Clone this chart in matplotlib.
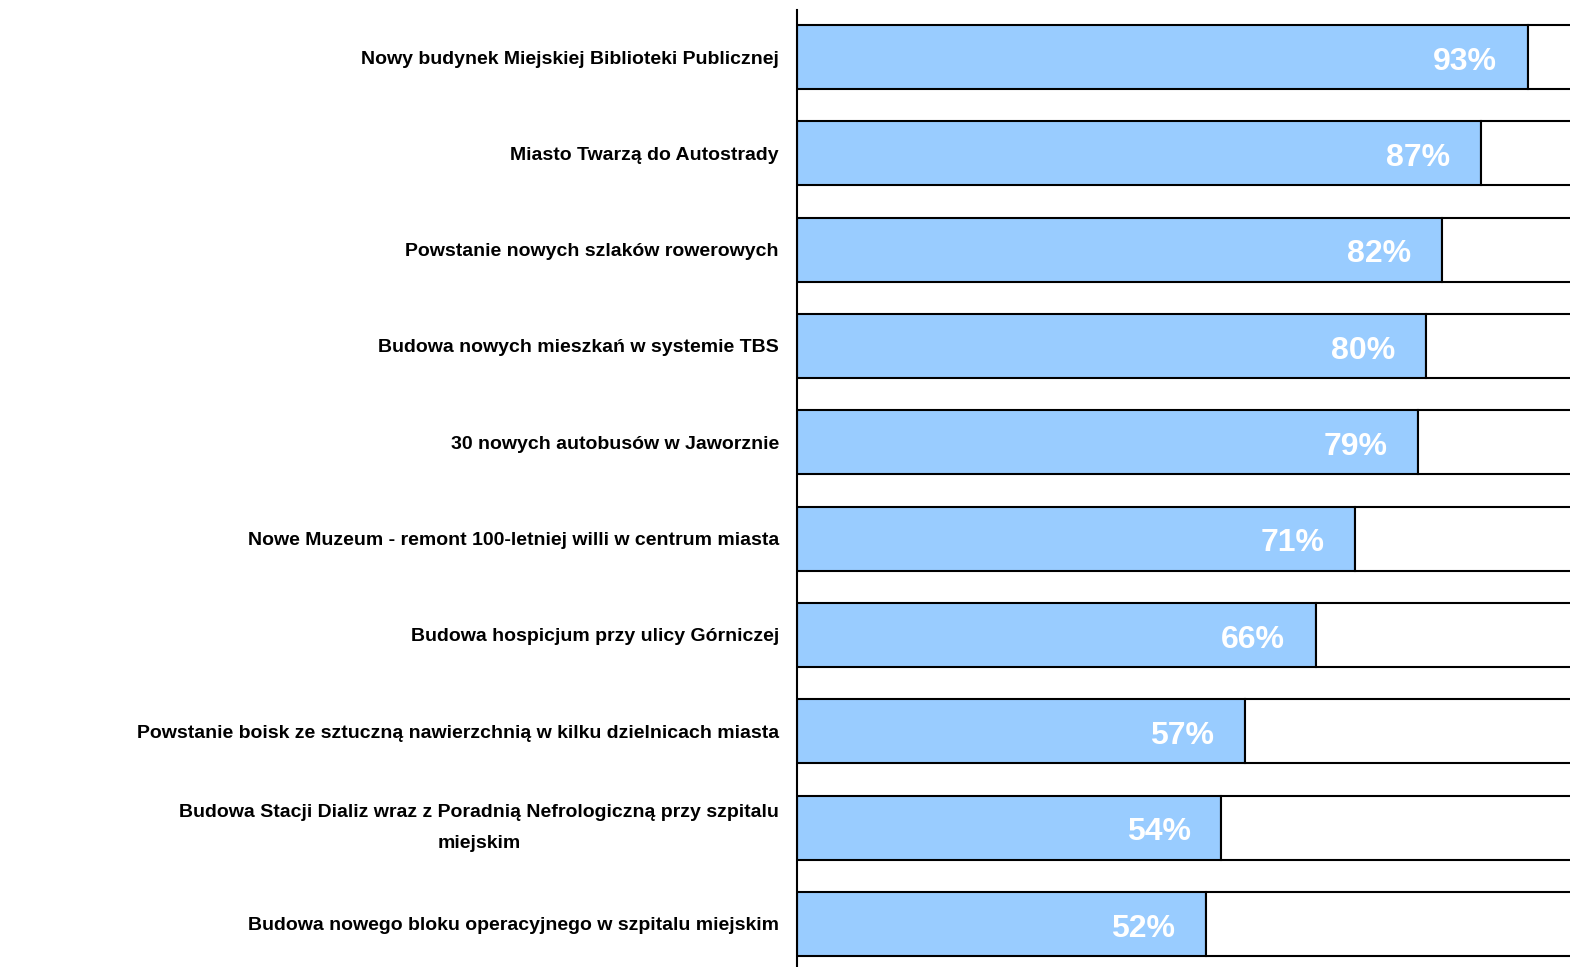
import matplotlib
matplotlib.use("Agg")
import matplotlib.pyplot as plt
import matplotlib.transforms as mtransforms

categories = [
    "Nowy budynek Miejskiej Biblioteki Publicznej",
    "Miasto Twarzą do Autostrady",
    "Powstanie nowych szlaków rowerowych",
    "Budowa nowych mieszkań w systemie TBS",
    "30 nowych autobusów w Jaworznie",
    "Nowe Muzeum - remont 100-letniej willi w centrum miasta",
    "Budowa hospicjum przy ulicy Górniczej",
    "Powstanie boisk ze sztuczną nawierzchnią w kilku dzielnicach miasta",
    "Budowa Stacji Dializ wraz z Poradnią Nefrologiczną przy szpitalu\nmiejskim",
    "Budowa nowego bloku operacyjnego w szpitalu miejskim",
]
values = [93, 87, 82, 80, 79, 71, 66, 57, 54, 52]
total = 100

plt.rcParams['font.family'] = ['Liberation Sans', 'DejaVu Sans']

fig = plt.figure(figsize=(15.7, 9.67), dpi=100)
ax = fig.add_axes([797/1570, 0, 1 - 797/1570, 1 - 10/967])

y = list(range(len(categories)))
rest = [total - v for v in values]
ax.barh(y, values, height=0.664, color='#99CCFF', edgecolor='black', linewidth=1.5, zorder=2)
ax.barh(y, rest, left=values, height=0.664, color='white', edgecolor='black', linewidth=1.5, zorder=2)

for yi, v in zip(y, values):
    ax.text(v - 3.9, yi + 0.05, f"{v}%", ha='right', va='center', color='white',
            fontsize=23, fontweight='bold')

ax.set_xlim(0, (1570 - 797) / 7.86)
ax.set_ylim(9.447, -0.488)
ax.set_yticks(y)
ax.set_yticklabels(categories, fontsize=14, fontweight='bold')
ax.tick_params(axis='y', length=0, pad=13)
for lbl in ax.get_yticklabels():
    lbl.set_multialignment('center')
    lbl.set_linespacing(2.05)
    if "\n" in lbl.get_text():
        lbl.set_transform(lbl.get_transform() +
                          mtransforms.ScaledTranslation(0, 6/72, fig.dpi_scale_trans))
ax.set_xticks([])
for s in ['top', 'right', 'bottom']:
    ax.spines[s].set_visible(False)
ax.spines['left'].set_linewidth(1.5)

fig.savefig("out.png", dpi=100)
